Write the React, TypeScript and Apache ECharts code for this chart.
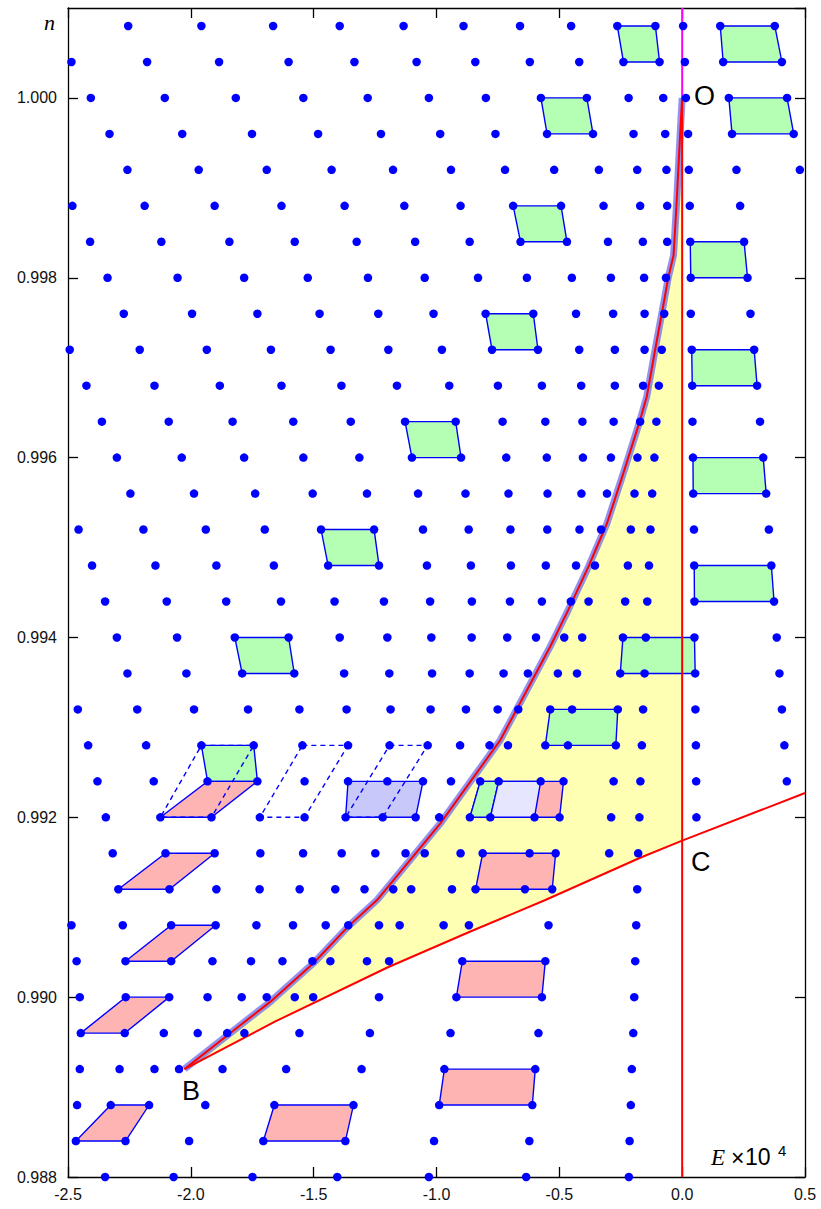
import React, { useEffect, useRef } from "react";
import * as echarts from "echarts";

// n value of each lattice row (bottom to top)
const rowN = [
  0.988, 0.9884, 0.9888, 0.9892, 0.9896, 0.99, 0.9904, 0.9908, 0.9912, 0.9916, 0.992,
  0.9924, 0.9928, 0.9932, 0.9936, 0.994, 0.9944, 0.9948, 0.9952, 0.9956, 0.996, 0.9964,
  0.9968, 0.9972, 0.9976, 0.998, 0.9984, 0.9988, 0.9992, 0.9996, 1.0, 1.0004, 1.0008,
];

// E (x10^4) of the dots in each row
const rowE = [
  [-2.349, -2.07, -1.749, -1.404, -1.031, -0.635, -0.217],
  [-2.468, -2.266, -2.007, -1.705, -1.371, -1.01, -0.622, -0.214],
  [-2.463, -2.326, -2.17, -1.941, -1.66, -1.338, -0.989, -0.61, -0.209],
  [-2.452, -2.29, -2.148, -2.048, -1.871, -1.612, -1.305, -0.968, -0.598, -0.205],
  [-2.448, -2.269, -2.11, -1.972, -1.852, -1.782, -1.558, -1.271, -0.943, -0.585, -0.199],
  [-2.452, -2.265, -2.088, -1.932, -1.793, -1.691, -1.577, -1.502, -1.234, -0.919, -0.571, -0.195],
  [-2.465, -2.266, -2.08, -1.912, -1.755, -1.627, -1.505, -1.432, -1.283, -1.193, -0.895, -0.557, -0.191],
  [-2.486, -2.277, -2.08, -1.899, -1.733, -1.584, -1.451, -1.359, -1.234, -1.15, -0.971, -0.868, -0.544, -0.187],
  [-2.295, -2.087, -1.896, -1.72, -1.557, -1.412, -1.293, -1.176, -1.103, -0.937, -0.841, -0.64, -0.529, -0.183],
  [-2.318, -2.103, -1.903, -1.717, -1.543, -1.386, -1.249, -1.126, -1.048, -0.902, -0.812, -0.621, -0.515, -0.297, -0.179],
  [-2.346, -2.124, -1.916, -1.719, -1.537, -1.37, -1.219, -1.085, -0.989, -0.864, -0.781, -0.601, -0.499, -0.289, -0.174, 0.058],
  [-2.38, -2.151, -1.932, -1.729, -1.537, -1.36, -1.2, -1.055, -0.941, -0.822, -0.747, -0.576, -0.483, -0.279, -0.17, 0.057, 0.426],
  [-2.418, -2.182, -1.957, -1.744, -1.546, -1.36, -1.191, -1.036, -0.904, -0.784, -0.709, -0.557, -0.465, -0.27, -0.164, 0.056, 0.416],
  [-2.46, -2.218, -1.987, -1.767, -1.558, -1.366, -1.187, -1.024, -0.88, -0.751, -0.667, -0.537, -0.448, -0.262, -0.159, 0.054, 0.406],
  [-2.258, -2.018, -1.791, -1.579, -1.376, -1.192, -1.018, -0.865, -0.727, -0.628, -0.506, -0.428, -0.252, -0.153, 0.053, 0.396],
  [-2.301, -2.056, -1.821, -1.602, -1.394, -1.2, -1.021, -0.857, -0.712, -0.595, -0.48, -0.407, -0.241, -0.148, 0.05, 0.385],
  [-2.349, -2.098, -1.856, -1.633, -1.415, -1.214, -1.026, -0.856, -0.701, -0.571, -0.453, -0.381, -0.232, -0.142, 0.05, 0.374],
  [-2.402, -2.144, -1.896, -1.662, -1.441, -1.234, -1.039, -0.86, -0.697, -0.555, -0.432, -0.355, -0.221, -0.135, 0.049, 0.363],
  [-2.457, -2.193, -1.939, -1.699, -1.47, -1.254, -1.055, -0.869, -0.699, -0.549, -0.418, -0.33, -0.209, -0.129, 0.048, 0.353],
  [-2.246, -1.987, -1.738, -1.504, -1.283, -1.075, -0.882, -0.707, -0.548, -0.41, -0.306, -0.194, -0.122, 0.045, 0.342],
  [-2.301, -2.037, -1.783, -1.542, -1.314, -1.1, -0.9, -0.716, -0.551, -0.404, -0.29, -0.182, -0.113, 0.044, 0.33],
  [-2.362, -2.09, -1.83, -1.583, -1.349, -1.128, -0.922, -0.731, -0.557, -0.406, -0.279, -0.171, -0.105, 0.042, 0.317],
  [-2.425, -2.148, -1.882, -1.631, -1.387, -1.161, -0.948, -0.75, -0.571, -0.411, -0.274, -0.159, -0.095, 0.041, 0.305],
  [-2.493, -2.208, -1.935, -1.674, -1.431, -1.196, -0.978, -0.774, -0.587, -0.419, -0.274, -0.153, -0.083, 0.039, 0.293],
  [-2.273, -1.995, -1.729, -1.476, -1.237, -1.012, -0.8, -0.606, -0.432, -0.281, -0.153, -0.073, 0.035, 0.278],
  [-2.339, -2.054, -1.783, -1.524, -1.279, -1.048, -0.831, -0.632, -0.449, -0.29, -0.155, -0.066, 0.035, 0.266],
  [-2.41, -2.12, -1.843, -1.577, -1.325, -1.087, -0.865, -0.658, -0.469, -0.302, -0.16, -0.061, 0.033, 0.252],
  [-2.482, -2.188, -1.903, -1.631, -1.374, -1.131, -0.902, -0.688, -0.493, -0.32, -0.171, -0.061, 0.031, 0.236],
  [-2.258, -1.968, -1.691, -1.427, -1.177, -0.941, -0.721, -0.521, -0.339, -0.183, -0.064, 0.027, 0.221, 0.479],
  [-2.331, -2.035, -1.751, -1.482, -1.226, -0.985, -0.76, -0.55, -0.363, -0.198, -0.069, 0.024, 0.203, 0.454],
  [-2.407, -2.106, -1.817, -1.542, -1.28, -1.031, -0.799, -0.575, -0.388, -0.218, -0.077, 0.015, 0.19, 0.427],
  [-2.486, -2.178, -1.885, -1.602, -1.334, -1.081, -0.842, -0.62, -0.419, -0.239, -0.092, 0.011, 0.167, 0.406],
  [-2.255, -1.957, -1.665, -1.394, -1.134, -0.89, -0.66, -0.452, -0.264, -0.109, 0.004, 0.155, 0.377],
];

// curve B -> O
const upperE = [-2.026, -1.826, -1.676, -1.5, -1.358, -1.242, -0.985, -0.74, -0.537, -0.463, -0.381, -0.306, -0.239, -0.171, -0.144, -0.11, -0.073, -0.056, -0.035, -0.022, -0.008, 0];
const upperN = [0.9892, 0.98963, 0.98995, 0.99038, 0.99079, 0.99108, 0.99193, 0.99286, 0.9939, 0.99431, 0.99479, 0.99527, 0.99583, 0.99642, 0.99668, 0.9972, 0.99775, 0.99801, 0.99825, 0.99887, 0.99961, 1.0];

// curve B -> C -> right edge
const lowerE = [-2.026, -1.656, -1.2, -0.862, -0.557, -0.171, 0, 0.5];
const lowerN = [0.9892, 0.98973, 0.99033, 0.99073, 0.99108, 0.99155, 0.99174, 0.99227];

type Pt = [number, number];
const greenCells: Pt[][] = [
  [[-0.264, 1.0008], [-0.109, 1.0008], [-0.092, 1.0004], [-0.239, 1.0004]],
  [[0.155, 1.0008], [0.377, 1.0008], [0.406, 1.0004], [0.167, 1.0004]],
  [[-0.575, 1.0], [-0.388, 1.0], [-0.363, 0.9996], [-0.55, 0.9996]],
  [[0.19, 1.0], [0.427, 1.0], [0.454, 0.9996], [0.203, 0.9996]],
  [[-0.688, 0.9988], [-0.493, 0.9988], [-0.469, 0.9984], [-0.658, 0.9984]],
  [[0.033, 0.9984], [0.252, 0.9984], [0.266, 0.998], [0.035, 0.998]],
  [[-0.8, 0.9976], [-0.606, 0.9976], [-0.587, 0.9972], [-0.774, 0.9972]],
  [[0.039, 0.9972], [0.293, 0.9972], [0.305, 0.9968], [0.041, 0.9968]],
  [[-1.128, 0.9964], [-0.922, 0.9964], [-0.9, 0.996], [-1.1, 0.996]],
  [[0.044, 0.996], [0.33, 0.996], [0.342, 0.9956], [0.045, 0.9956]],
  [[-1.47, 0.9952], [-1.254, 0.9952], [-1.234, 0.9948], [-1.441, 0.9948]],
  [[0.049, 0.9948], [0.363, 0.9948], [0.374, 0.9944], [0.05, 0.9944]],
  [[-1.821, 0.994], [-1.602, 0.994], [-1.579, 0.9936], [-1.791, 0.9936]],
  [[-0.241, 0.994], [0.05, 0.994], [0.053, 0.9936], [-0.252, 0.9936]],
  [[-0.537, 0.9932], [-0.262, 0.9932], [-0.27, 0.9928], [-0.557, 0.9928]],
  [[-1.957, 0.9928], [-1.744, 0.9928], [-1.729, 0.9924], [-1.932, 0.9924]],
];
const pinkCells: Pt[][] = [
  [[-1.932, 0.9924], [-1.729, 0.9924], [-1.916, 0.992], [-2.124, 0.992]],
  [[-2.103, 0.9916], [-1.903, 0.9916], [-2.087, 0.9912], [-2.295, 0.9912]],
  [[-2.08, 0.9908], [-1.899, 0.9908], [-2.08, 0.9904], [-2.266, 0.9904]],
  [[-2.265, 0.99], [-2.088, 0.99], [-2.269, 0.9896], [-2.448, 0.9896]],
  [[-2.326, 0.9888], [-2.17, 0.9888], [-2.266, 0.9884], [-2.468, 0.9884]],
  [[-1.66, 0.9888], [-1.338, 0.9888], [-1.371, 0.9884], [-1.705, 0.9884]],
  [[-0.968, 0.9892], [-0.598, 0.9892], [-0.61, 0.9888], [-0.989, 0.9888]],
  [[-0.895, 0.9904], [-0.557, 0.9904], [-0.571, 0.99], [-0.919, 0.99]],
  [[-0.812, 0.9916], [-0.515, 0.9916], [-0.529, 0.9912], [-0.841, 0.9912]],
  [[-0.822, 0.9924], [-0.483, 0.9924], [-0.499, 0.992], [-0.864, 0.992]],
];
const overlayGreenCells: Pt[][] = [
  [[-0.822, 0.9924], [-0.747, 0.9924], [-0.781, 0.992], [-0.864, 0.992]],
];
const lavenderCells: Pt[][] = [
  [[-0.747, 0.9924], [-0.576, 0.9924], [-0.601, 0.992], [-0.781, 0.992]],
];
const blueCells: Pt[][] = [
  [[-1.36, 0.9924], [-1.055, 0.9924], [-1.085, 0.992], [-1.37, 0.992]],
];
const dashedCells: Pt[][] = [
  [[-1.957, 0.9928], [-1.744, 0.9928], [-1.916, 0.992], [-2.124, 0.992]],
  [[-1.546, 0.9928], [-1.36, 0.9928], [-1.537, 0.992], [-1.719, 0.992]],
  [[-1.191, 0.9928], [-1.036, 0.9928], [-1.219, 0.992], [-1.37, 0.992]],
];

const xTickStep = 0.5;
const yTickStep = 0.002;

export default function App() {
  const ref = useRef<HTMLDivElement>(null);
  useEffect(() => {
    const chart = echarts.init(ref.current!, null, { renderer: "svg" });

    const dots: number[][] = [];
    rowE.forEach((row, i) => row.forEach((e) => dots.push([e, rowN[i]])));

    const upper = upperE.map((e, i) => [e, upperN[i]]);
    const lower = lowerE.map((e, i) => [e, lowerN[i]]);
    const cIdx = lowerE.indexOf(0);
    const region: number[][] = [
      ...upper,
      [0, lowerN[cIdx]],
      ...lower.slice(0, cIdx).reverse(),
    ];

    const cellSeries = (cells: Pt[][], fill: string, dashed: boolean, z: number) => ({
      type: "custom",
      xAxisIndex: 0,
      yAxisIndex: 0,
      silent: true,
      z,
      dimensions: ["x0", "y0", "x1", "y1", "x2", "y2", "x3", "y3"],
      encode: { x: [0, 2, 4, 6], y: [1, 3, 5, 7] },
      data: cells.map((c) => [c[0][0], c[0][1], c[1][0], c[1][1], c[2][0], c[2][1], c[3][0], c[3][1]]),
      renderItem: (_p: any, api: any) => {
        const pts: number[][] = [];
        for (let i = 0; i < 4; i++) pts.push(api.coord([api.value(2 * i), api.value(2 * i + 1)]));
        return {
          type: "polygon",
          shape: { points: pts },
          style: {
            fill: fill,
            stroke: "#0000ff",
            lineWidth: 1.4,
            lineDash: dashed ? [5, 4] : null,
          },
        };
      },
    });

    const axisLine = { show: true, onZero: false, lineStyle: { color: "#000", width: 1.3 } };
    const tickStyle = { show: true, inside: true, length: 10, lineStyle: { color: "#000", width: 1.3 } };
    const labelFont = { fontFamily: "Liberation Sans, Arial, sans-serif", fontSize: 16, color: "#111" };

    const option: any = {
      animation: false,
      backgroundColor: "#fff",
      grid: { left: 68, right: 16, top: 8, bottom: 32, containLabel: false },
      xAxis: [
        {
          type: "value", min: -2.5, max: 0.5, interval: xTickStep, position: "bottom",
          axisLine, axisTick: tickStyle, splitLine: { show: false },
          axisLabel: { ...labelFont, margin: 9, formatter: (v: number) => v.toFixed(1) },
        },
        {
          type: "value", min: -2.5, max: 0.5, interval: xTickStep, position: "top",
          axisLine, axisTick: tickStyle, splitLine: { show: false }, axisLabel: { show: false },
        },
      ],
      yAxis: [
        {
          type: "value", min: 0.988, max: 1.001, interval: yTickStep, position: "left",
          axisLine, axisTick: tickStyle, splitLine: { show: false },
          axisLabel: { ...labelFont, margin: 11, showMaxLabel: false, formatter: (v: number) => v.toFixed(3) },
        },
        {
          type: "value", min: 0.988, max: 1.001, interval: yTickStep, position: "right",
          axisLine, axisTick: tickStyle, splitLine: { show: false }, axisLabel: { show: false },
        },
      ],
      series: [
        {
          type: "custom",
          silent: true,
          z: 1,
          data: [[0, 0.99]],
          renderItem: (_p: any, api: any) => ({
            type: "polygon",
            shape: { points: region.map((p) => api.coord(p)) },
            style: { fill: "#ffffb4", stroke: null },
          }),
        },
        cellSeries(greenCells, "#b4ffb4", false, 2),
        cellSeries(pinkCells, "#ffb4b4", false, 2),
        cellSeries(overlayGreenCells, "#b4ffb4", false, 3),
        cellSeries(lavenderCells, "#e6e6ff", false, 3),
        cellSeries(blueCells, "#c8c8fa", false, 3),
        cellSeries(dashedCells, "none", true, 3),
        {
          type: "line", data: upper, symbol: "none", silent: true, z: 4,
          lineStyle: { color: "rgba(100,100,235,0.7)", width: 7 },
        },
        {
          type: "line", data: upper, symbol: "none", silent: true, z: 5,
          lineStyle: { color: "#ff0000", width: 2 },
        },
        {
          type: "line", data: lower, symbol: "none", silent: true, z: 5,
          lineStyle: { color: "#ff0000", width: 2 },
        },
        {
          type: "line", data: [[0, 0.988], [0, 1.0]], symbol: "none", silent: true, z: 5,
          lineStyle: { color: "#ff0000", width: 2 },
        },
        {
          type: "line", data: [[0, 1.0], [0, 1.001]], symbol: "none", silent: true, z: 5,
          lineStyle: { color: "#ff00ff", width: 2 },
        },
        {
          type: "scatter", data: dots, symbol: "circle", symbolSize: 8.5, silent: true, z: 10, clip: false,
          itemStyle: { color: "#0000ff", opacity: 1 },
        },
      ],
      graphic: [
        { type: "text", left: 694, top: 82, style: { text: "O", fontFamily: "Liberation Sans, Arial, sans-serif", fontSize: 27, fill: "#000" } },
        { type: "text", left: 691, top: 848, style: { text: "C", fontFamily: "Liberation Sans, Arial, sans-serif", fontSize: 27, fill: "#000" } },
        { type: "text", left: 182, top: 1077, style: { text: "B", fontFamily: "Liberation Sans, Arial, sans-serif", fontSize: 27, fill: "#000" } },
        { type: "text", left: 44, top: 11, style: { text: "n", fontFamily: "Liberation Serif, serif", fontStyle: "italic", fontSize: 22, fill: "#000" } },
        { type: "text", left: 711, top: 1146, style: { text: "E", fontFamily: "Liberation Serif, serif", fontStyle: "italic", fontSize: 23, fill: "#000" } },
        { type: "text", left: 731, top: 1146, style: { text: "×", fontFamily: "Liberation Sans, Arial, sans-serif", fontSize: 23, fill: "#000" } },
        { type: "text", left: 745, top: 1145, style: { text: "10", fontFamily: "Liberation Sans, Arial, sans-serif", fontSize: 23, fill: "#000" } },
        { type: "text", left: 778, top: 1143, style: { text: "4", fontFamily: "Liberation Sans, Arial, sans-serif", fontSize: 15, fill: "#000" } },
      ],
    };
    chart.setOption(option);
    return () => chart.dispose();
  }, []);
  return (
    <div
      ref={ref}
      style={{ position: "absolute", left: 0, top: 0, width: 821, height: 1209, background: "#fff" }}
    />
  );
}
